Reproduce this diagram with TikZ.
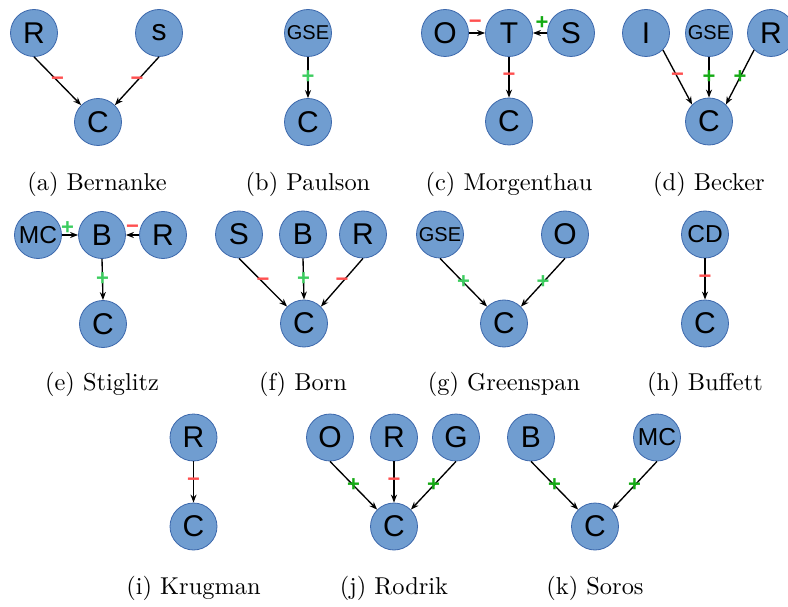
\documentclass[tikz,border=0pt]{standalone}
\usepackage{fontspec}
\newfontfamily\nodefont{Liberation Sans}
\usetikzlibrary{arrows.meta}
\definecolor{nfill}{RGB}{112,157,208}
\definecolor{nborder}{RGB}{60,104,172}
\definecolor{sred}{RGB}{255,80,80}
\definecolor{sgreenL}{RGB}{60,205,95}
\definecolor{sgreenD}{RGB}{20,170,20}
\begin{document}
\begin{tikzpicture}[x=1pt,y=-1pt,
  bn/.style={circle, minimum size=47pt, inner sep=0pt, fill=nfill, draw=nborder, line width=0.8pt, font=\nodefont\fontsize{30}{30}\selectfont},
  bns/.style={bn, font=\nodefont\fontsize{20}{20}\selectfont},
  bnm/.style={bn, font=\nodefont\fontsize{24.5}{24.5}\selectfont},
  edge/.style={-{Stealth[length=8pt,width=6pt]}, line width=1.35pt, black},
  captxt/.style={inner sep=0pt},
  sgn/.style={font=\nodefont\bfseries\fontsize{22}{22}\selectfont, inner sep=0pt},
  pl/.style={sgn, text=sgreenL},
  pd/.style={sgn, text=sgreenD},
  mi/.style={sgn, text=sred}]
\useasboundingbox (0,0) rectangle (788,607);
% (a) Bernanke
\node[bn] (Ra) at (34,33) {R};
\node[bn] (sa) at (159,33) {s};
\node[bn] (Ca) at (98,122) {C};
\draw[edge] (Ra.south) -- node[mi]{−} (Ca.north west);
\draw[edge] (sa.south) -- node[mi]{−} (Ca.north east);
\node[captxt] (capa) at (97,184) {\scalebox{2.44}{(a) Bernanke}};
% (b) Paulson
\node[bns] (GSEb) at (308,33) {GSE};
\node[bn] (Cb) at (308,122) {C};
\draw[edge] (GSEb.south) -- node[pl]{+} (Cb.north);
\node[captxt] (capb) at (308,184) {\scalebox{2.44}{(b) Paulson}};
% (c) Morgenthau
\node[bn] (Oc) at (445,33) {O};
\node[bn] (Tc) at (509,33) {T};
\node[bn] (Sc) at (571,33) {S};
\node[bn] (Cc) at (509,121.5) {C};
\draw[edge] (Oc.east) -- node[mi, pos=0.4, yshift=9pt]{−} (Tc.west);
\draw[edge] (Sc.west) -- node[pd, pos=0.35, yshift=10pt]{+} (Tc.east);
\draw[edge] (Tc.south) -- node[mi]{−} (Cc.north);
\node[captxt] (capc) at (509,184) {\scalebox{2.44}{(c) Morgenthau}};
% (d) Becker
\node[bn] (Id) at (646,33) {I};
\node[bns] (GSEd) at (709,33) {GSE};
\node[bn] (Rd) at (771,33) {R};
\node[bn] (Cd) at (709,121.5) {C};
\draw[edge] (Id.south east) -- node[mi]{−} (Cd.north west);
\draw[edge] (GSEd.south) -- node[pd]{+} (Cd.north);
\draw[edge] (Rd.south west) -- node[pd]{+} (Cd.north east);
\node[captxt] (capd) at (709,184) {\scalebox{2.44}{(d) Becker}};
% (e) Stiglitz
\node[bnm] (MCe) at (38,235) {MC};
\node[bn] (Be) at (102,235) {B};
\node[bn] (Re) at (163,235) {R};
\node[bn] (Ce) at (103,324) {C};
\draw[edge] (MCe.east) -- node[pl, pos=0.35, yshift=7pt]{+} (Be.west);
\draw[edge] (Re.west) -- node[mi, pos=0.5, yshift=6pt]{−} (Be.east);
\draw[edge] (Be.south) -- node[pl]{+} (Ce.north);
\node[captxt] (cape) at (102,384) {\scalebox{2.44}{(e) Stiglitz}};
% (f) Born
\node[bn] (Sf) at (239,234.5) {S};
\node[bn] (Bf) at (303,234.5) {B};
\node[bn] (Rf) at (363,234.5) {R};
\node[bn] (Cf) at (304,323.5) {C};
\draw[edge] (Sf.south) -- node[mi]{−} (Cf.north west);
\draw[edge] (Bf.south) -- node[pl]{+} (Cf.north);
\draw[edge] (Rf.south) -- node[mi]{−} (Cf.north east);
\node[captxt] (capf) at (303,384) {\scalebox{2.44}{(f) Born}};
% (g) Greenspan
\node[bns] (GSEg) at (440,234.5) {GSE};
\node[bn] (Og) at (565,234.5) {O};
\node[bn] (Cg) at (504,323.5) {C};
\draw[edge] (GSEg.south) -- node[pl]{+} (Cg.north west);
\draw[edge] (Og.south) -- node[pl]{+} (Cg.north east);
\node[captxt] (capg) at (504,384) {\scalebox{2.44}{(g) Greenspan}};
% (h) Buffett
\node[bnm] (CDh) at (705,234.5) {CD};
\node[bn] (Ch) at (705,323.5) {C};
\draw[edge] (CDh.south) -- node[mi]{−} (Ch.north);
\node[captxt] (caph) at (705,384) {\scalebox{2.44}{(h) Buffett}};
% (i) Krugman
\node[bn] (Ri) at (193.5,437.5) {R};
\node[bn] (Ci) at (193.5,526.5) {C};
\draw[edge] (Ri.south) -- node[mi]{−} (Ci.north);
\node[captxt] (capi) at (193.5,588) {\scalebox{2.44}{(i) Krugman}};
% (j) Rodrik
\node[bn] (Oj) at (330,437.5) {O};
\node[bn] (Rj) at (394,437.5) {R};
\node[bn] (Gj) at (456,437.5) {G};
\node[bn] (Cj) at (394,526.5) {C};
\draw[edge] (Oj.south) -- node[pd]{+} (Cj.north west);
\draw[edge] (Rj.south) -- node[mi]{−} (Cj.north);
\draw[edge] (Gj.south) -- node[pd]{+} (Cj.north east);
\node[captxt] (capj) at (394,588) {\scalebox{2.44}{(j) Rodrik}};
% (k) Soros
\node[bn] (Bk) at (531,437.5) {B};
\node[bnm] (MCk) at (657,437.5) {MC};
\node[bn] (Ck) at (595,526.5) {C};
\draw[edge] (Bk.south) -- node[pd]{+} (Ck.north west);
\draw[edge] (MCk.south) -- node[pd]{+} (Ck.north east);
\node[captxt] (capk) at (595,588) {\scalebox{2.44}{(k) Soros}};
\end{tikzpicture}
\end{document}
